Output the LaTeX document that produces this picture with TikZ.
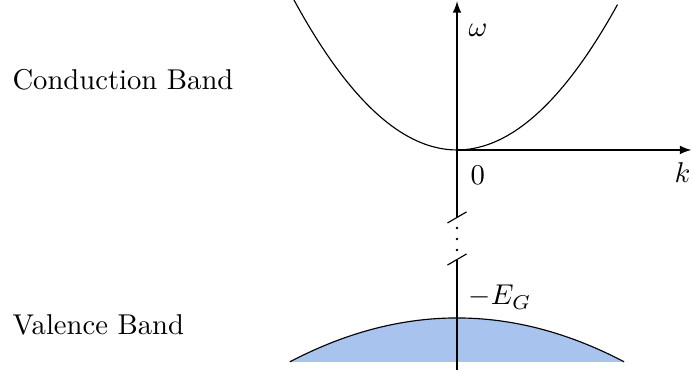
\documentclass[tikz,border=0pt]{standalone}
\usetikzlibrary{arrows}
\definecolor{valenceblue}{RGB}{168,196,238}
\begin{document}
\begin{tikzpicture}[>=latex]
  \useasboundingbox (-5.607,-2.748) rectangle (2.883,1.840);

  % -- Valence band --
  \fill[valenceblue] (-2.05,-2.601) -- plot[domain=-2.05:2.05, samples=60] (\x, {-2.061-0.128*\x*\x}) -- cycle;
  \draw plot[domain=-2.05:2.05, samples=60] (\x, {-2.061-0.128*\x*\x});

  % -- Conduction band --
  \draw plot[domain=-2.01:1.97, samples=80] (\x, {0.46*\x*\x});

  % -- Axes --
  \coordinate (origin) at (0,0);
  \coordinate (kend) at (2.875,0);
  \coordinate (wend) at (0,1.825);
  \coordinate (breaktop) at (0,-0.828);
  \coordinate (breakbot) at (0,-1.344);
  \coordinate (axisbot) at (0,-2.70);
  \draw[->] (origin) -- (kend);
  \draw[->] (breaktop) -- (wend);
  \draw (axisbot) -- (breakbot);

  % -- Axis break --
  \draw ([xshift=-0.117cm, yshift=-0.068cm]breaktop) -- ([xshift=0.117cm, yshift=0.068cm]breaktop);
  \draw ([xshift=-0.117cm, yshift=-0.068cm]breakbot) -- ([xshift=0.117cm, yshift=0.068cm]breakbot);
  \foreach \y in {-0.957,-1.092,-1.227}
    \fill (0,\y) circle (0.016);

  % -- Labels --
  \node[anchor=base west, inner sep=0] (omega) at (0.135,1.387) {$\omega$};
  \node[anchor=base west, inner sep=0] (zero) at (0.16,-0.429) {$0$};
  \node[anchor=base west, inner sep=0] (kay) at (2.662,-0.405) {$k$};
  \node[anchor=base west, inner sep=0] (gap) at (0.135,-1.902) {$-E_G$};
  \node[anchor=base west, inner sep=0] (cband) at (-5.46,0.736) {Conduction Band};
  \node[anchor=base west, inner sep=0] (vband) at (-5.46,-2.27) {Valence Band};

\end{tikzpicture}
\end{document}
